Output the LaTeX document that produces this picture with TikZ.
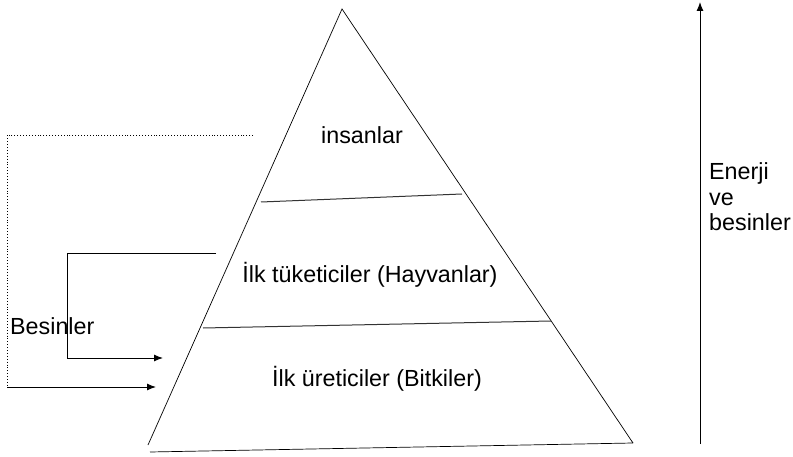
\documentclass[tikz,border=0pt]{standalone}
\usepackage{fontspec}
\setmainfont{Liberation Sans}
\usetikzlibrary{arrows.meta}
\begin{document}
\begin{tikzpicture}[x=1pt,y=-1pt,
  edge/.style={line width=0.7pt},
  divider/.style={line width=1pt,draw=black!80},
  conn/.style={line width=1pt},
  dotconn/.style={line width=0.9pt,dotted},
  tip/.style={-{Latex[length=9pt,width=7pt]}},
  lbl/.style={inner sep=0pt,font=\fontsize{23.3}{25.5}\selectfont}]
\useasboundingbox (0,0) rectangle (793,457);
% pyramid
\coordinate (apex) at (342,9);
\coordinate (bl) at (148,445);
\coordinate (br) at (633,443);
\coordinate (bbl) at (150,452);
\coordinate (bbr) at (633,443);
\draw[edge] (bl) -- (apex) -- (br);
\draw[edge] (bbl) -- (bbr);
\coordinate (d1l) at (261,202);
\coordinate (d1r) at (462,194);
\coordinate (d2l) at (203,328);
\coordinate (d2r) at (551,321);
\draw[divider] (d1l) -- (d1r);
\draw[divider] (d2l) -- (d2r);
% labels
\node[lbl] (ins) at (362,135) {insanlar};
\node[lbl] (tuk) at (370,275) {İlk tüketiciler (Hayvanlar)};
\node[lbl] (ure) at (377,379) {İlk üreticiler (Bitkiler)};
% energy arrow
\coordinate (ea) at (700,444);
\coordinate (eb) at (700,2);
\draw[conn,tip] (ea) -- (eb);
\node[lbl,anchor=west,align=left] (en) at (709,197) {Enerji\\ve\\besinler};
% left connectors
\coordinate (s1a) at (216,254);
\coordinate (s1b) at (67,254);
\coordinate (s1c) at (67,358);
\coordinate (s1d) at (163,358);
\draw[conn] (s1a) -- (s1b) -- (s1c);
\draw[conn,tip] (s1c) -- (s1d);
\coordinate (s2a) at (253,135);
\coordinate (s2b) at (7,135);
\coordinate (s2c) at (7,387);
\coordinate (s2d) at (156,387);
\draw[dotconn] (s2a) -- (s2b) -- (s2c);
\draw[conn,tip] (s2c) -- (s2d);
\node[lbl,anchor=west] (bes) at (10,326) {Besinler};
\end{tikzpicture}
\end{document}
